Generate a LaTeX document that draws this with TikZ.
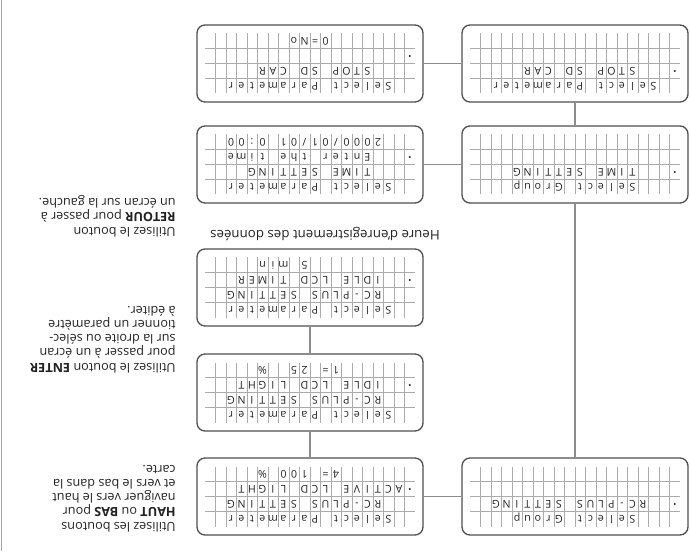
\documentclass[tikz,border=0pt]{standalone}
\usepackage{fontspec}
\setmainfont{Open Sans}
\usetikzlibrary{positioning}

\definecolor{boxline}{HTML}{4F4F4F}
\definecolor{gridline}{HTML}{ABABAB}
\definecolor{linkline}{HTML}{8C8C8C}
\definecolor{inktext}{HTML}{222222}
\definecolor{edgeline}{HTML}{A6A6A6}

%% one character per cell of the display
\newcommand{\lcdcells}[1]{\lcdcellsnext#1\relax}
\newcommand{\lcdcellsnext}[1]{\ifx\relax#1\else\makebox[7.875pt]{#1}\expandafter\lcdcellsnext\fi}
%% 20 x 4 grid round a box centre
\newcommand{\lcdgrid}[2]{%
  \foreach \k in {1,...,19}{\draw[lcdgrid] ({#1-105+10.5*\k}, {#2-30}) to ({#1-105+10.5*\k}, {#2+30});}%
  \foreach \j in {-1,0,1}{\draw[lcdgrid] ({#1-105}, {#2+15*(\j)}) to ({#1+105}, {#2+15*(\j)});}%
}
%% name, centre x, centre y, row, column, text
\newcommand{\lcdline}[6]{\node[lcdchar] (#1) at ({#2-105+10.5*#5}, {#3+37.5-15*#4}) {\lcdcells{#6}};}
\newcommand{\lcdcursor}[3]{\fill[inktext] ({#1-99.75}, {#2+37.5-15*#3}) circle (1.2);}

\begin{document}
\begin{tikzpicture}[x=0.75pt, y=0.75pt,
    lcdbox/.style={draw=boxline, line width=1pt, rounded corners=6pt, minimum width=169.5pt, minimum height=57.75pt, inner sep=0pt},
    lcdgrid/.style={draw=gridline, line width=0.6pt},
    lcdchar/.style={anchor=west, inner sep=0pt, text=inktext, font=\fontsize{8}{9}\selectfont, text height=5.7pt, text depth=0pt},
    link/.style={draw=linkline, line width=1pt},
    hint/.style={anchor=north west, inner sep=0pt, align=left, text=inktext, font=\fontsize{9.5}{10.6}\selectfont},
    caption/.style={inner sep=0pt, text=inktext, font=\fontsize{10}{12}\selectfont}]

    \useasboundingbox (0,0) rectangle (690,551);

    \begin{scope}[rotate around={180:(345,275.5)}, transform shape]

        %%page edge
        \draw[edgeline, line width=1.1pt] (688.5,0) to (688.5,551);

        %%G1
        \node[lcdbox] (g1) at (115,496.5){};
        \lcdgrid{115}{496.5}
            \lcdline{g1a}{115}{496.5}{1}{4}{Select~Group}
            \lcdline{g1b}{115}{496.5}{2}{3}{RC-PLUS~SETTING}
            \lcdcursor{115}{496.5}{2}

        %%P1
        \node[lcdbox] (p1) at (380,496.5){};
        \lcdgrid{380}{496.5}
            \lcdline{p1a}{380}{496.5}{1}{2}{Select~Parameter}
            \lcdline{p1b}{380}{496.5}{2}{3}{RC-PLUS~SETTING}
            \lcdline{p1c}{380}{496.5}{3}{1}{ACTIVE~LCD~LIGHT}
            \lcdline{p1d}{380}{496.5}{4}{7}{4=~100~\%}
            \lcdcursor{380}{496.5}{3}

        %%P2
        \node[lcdbox] (p2) at (380,392.5){};
        \lcdgrid{380}{392.5}
            \lcdline{p2a}{380}{392.5}{1}{2}{Select~Parameter}
            \lcdline{p2b}{380}{392.5}{2}{3}{RC-PLUS~SETTING}
            \lcdline{p2c}{380}{392.5}{3}{3}{IDLE~LCD~LIGHT}
            \lcdline{p2d}{380}{392.5}{4}{7}{1=~25~~\%}
            \lcdcursor{380}{392.5}{3}

        %%P3
        \node[lcdbox] (p3) at (380,287.5){};
        \lcdgrid{380}{287.5}
            \lcdline{p3a}{380}{287.5}{1}{2}{Select~Parameter}
            \lcdline{p3b}{380}{287.5}{2}{3}{RC-PLUS~SETTING}
            \lcdline{p3c}{380}{287.5}{3}{3}{IDLE~LCD~TIMER}
            \lcdline{p3d}{380}{287.5}{4}{10}{5~min}
            \lcdcursor{380}{287.5}{3}

        \node[caption] (heure) at (365,234){Heure d'enregistrement des données};

        %%G2
        \node[lcdbox] (g2) at (115,164.5){};
        \lcdgrid{115}{164.5}
            \lcdline{g2a}{115}{164.5}{1}{4}{Select~Group}
            \lcdline{g2b}{115}{164.5}{2}{4}{TIME~SETTING}
            \lcdcursor{115}{164.5}{2}

        %%P4
        \node[lcdbox] (p4) at (380,164.5){};
        \lcdgrid{380}{164.5}
            \lcdline{p4a}{380}{164.5}{1}{2}{Select~Parameter}
            \lcdline{p4b}{380}{164.5}{2}{4}{TIME~SETTING}
            \lcdline{p4c}{380}{164.5}{3}{4}{Enter~the~time}
            \lcdline{p4d}{380}{164.5}{4}{3}{2000/01/01~0:00}
            \lcdcursor{380}{164.5}{3}

        %%G3
        \node[lcdbox] (g3) at (115,63.5){};
        \lcdgrid{115}{63.5}
            \lcdline{g3a}{115}{63.5}{1}{2}{Select~Parameter}
            \lcdline{g3b}{115}{63.5}{2}{4}{STOP~SD~CAR}
            \lcdcursor{115}{63.5}{2}

        %%P5
        \node[lcdbox] (p5) at (380,63.5){};
        \lcdgrid{380}{63.5}
            \lcdline{p5a}{380}{63.5}{1}{2}{Select~Parameter}
            \lcdline{p5b}{380}{63.5}{2}{4}{STOP~SD~CAR}
            \lcdline{p5d}{380}{63.5}{4}{8}{0=No}
            \lcdcursor{380}{63.5}{3}

        %%links
        \draw[link] (g1.east) to (p1.west);
        \draw[link] (p1.south) to (p2.north);
        \draw[link] (p2.south) to (p3.north);
        \draw[link] (g1.south) to (g2.north);
        \draw[link] (g2.east) to (p4.west);
        \draw[link] (g2.south) to (g3.north);
        \draw[link] (g3.east) to (p5.west);

        %%hints
        \node[hint] (haut) at (514,532){Utilisez les boutons\\\textbf{HAUT} ou \textbf{BAS} pour\\naviguer vers le haut\\et vers le bas dans la\\carte.};
        \node[hint] (enter) at (514,373){Utilisez le bouton \textbf{ENTER}\\pour passer à un écran\\sur la droite ou sélec-\\tionner un paramètre\\à éditer.};
        \node[hint] (retour) at (514,237){Utilisez le bouton\\\textbf{RETOUR} pour passer à\\un écran sur la gauche.};

    \end{scope}
\end{tikzpicture}
\end{document}
